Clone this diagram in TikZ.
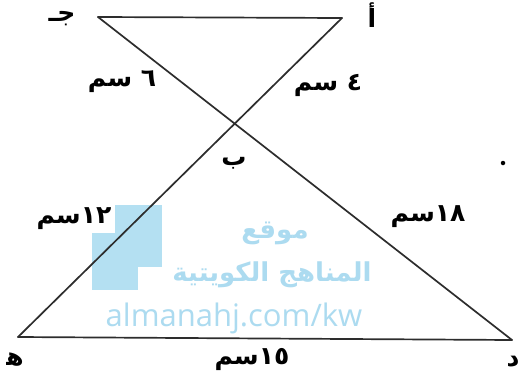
\documentclass[tikz,border=0pt]{standalone}
\usepackage{fontspec}
\TeXXeTstate=1
\newfontfamily\arabicfont[Script=Arabic]{DejaVu Sans}
\newfontfamily\wmlatin{Open Sans}
\definecolor{wmblue}{RGB}{180,224,242}
\definecolor{wmtext}{RGB}{172,219,240}
\definecolor{segcol}{RGB}{45,45,45}
\begin{document}
\begin{tikzpicture}[x=1pt,y=-1pt,
  seg/.style={draw=segcol, line width=1.7pt, line cap=round, line join=round},
  lab/.style={font=\arabicfont\bfseries\fontsize{25}{26}\selectfont, inner sep=0pt, text=black},
  wmar/.style={font=\arabicfont\bfseries\fontsize{26}{28}\selectfont, inner sep=0pt, text=wmtext},
  wmlat/.style={font=\wmlatin\fontsize{31}{33}\selectfont, inner sep=0pt, text=wmtext}]
\useasboundingbox[fill=white] (0,0) rectangle (522,391);
% watermark
\fill[wmblue] (115,205) rectangle (162,267);
\fill[wmblue] (92,233) rectangle (138,290);
\node[wmar] (wm1) at (275,233) {\beginR موقع\endR};
\node[wmar] (wm2) at (272,275) {\beginR المناهج الكويتية\endR};
\node[wmlat] (wm3) at (234,318) {almanahj.com/kw};
% vertices
\coordinate (J) at (98,17);
\coordinate (A) at (342,18);
\coordinate (H) at (18,337);
\coordinate (D) at (512,340);
% segments
\draw[seg] (J) -- (A);
\draw[seg] (J) -- (D);
\draw[seg] (A) -- (H);
\draw[seg] (H) -- (D);
% labels
\node[lab] (lJ) at (62,19) {\beginR جـ\endR};
\node[lab] (lA) at (372,15) {\beginR أ\endR};
\node[lab] (lB) at (234,163) {\beginR ب\endR};
\node[lab] (lH) at (15,360) {\beginR ه\char"200D\endR};
\node[lab] (lD) at (513,362) {\beginR د\endR};
\node[lab] (l6) at (122,82) {\beginR\beginL ٦\endL{} سم\endR};
\node[lab] (l4) at (328,85) {\beginR\beginL ٤\endL{} سم\endR};
\node[lab] (l12) at (74,219) {\beginR\beginL ١٢\endL{}سم\endR};
\node[lab] (l18) at (428,217) {\beginR\beginL ١٨\endL{}سم\endR};
\node[lab] (l15) at (252,360) {\beginR\beginL ١٥\endL{}سم\endR};
\node[circle, fill=black, inner sep=0pt, minimum size=4.5pt] (dot) at (503,163) {};
\end{tikzpicture}
\end{document}
